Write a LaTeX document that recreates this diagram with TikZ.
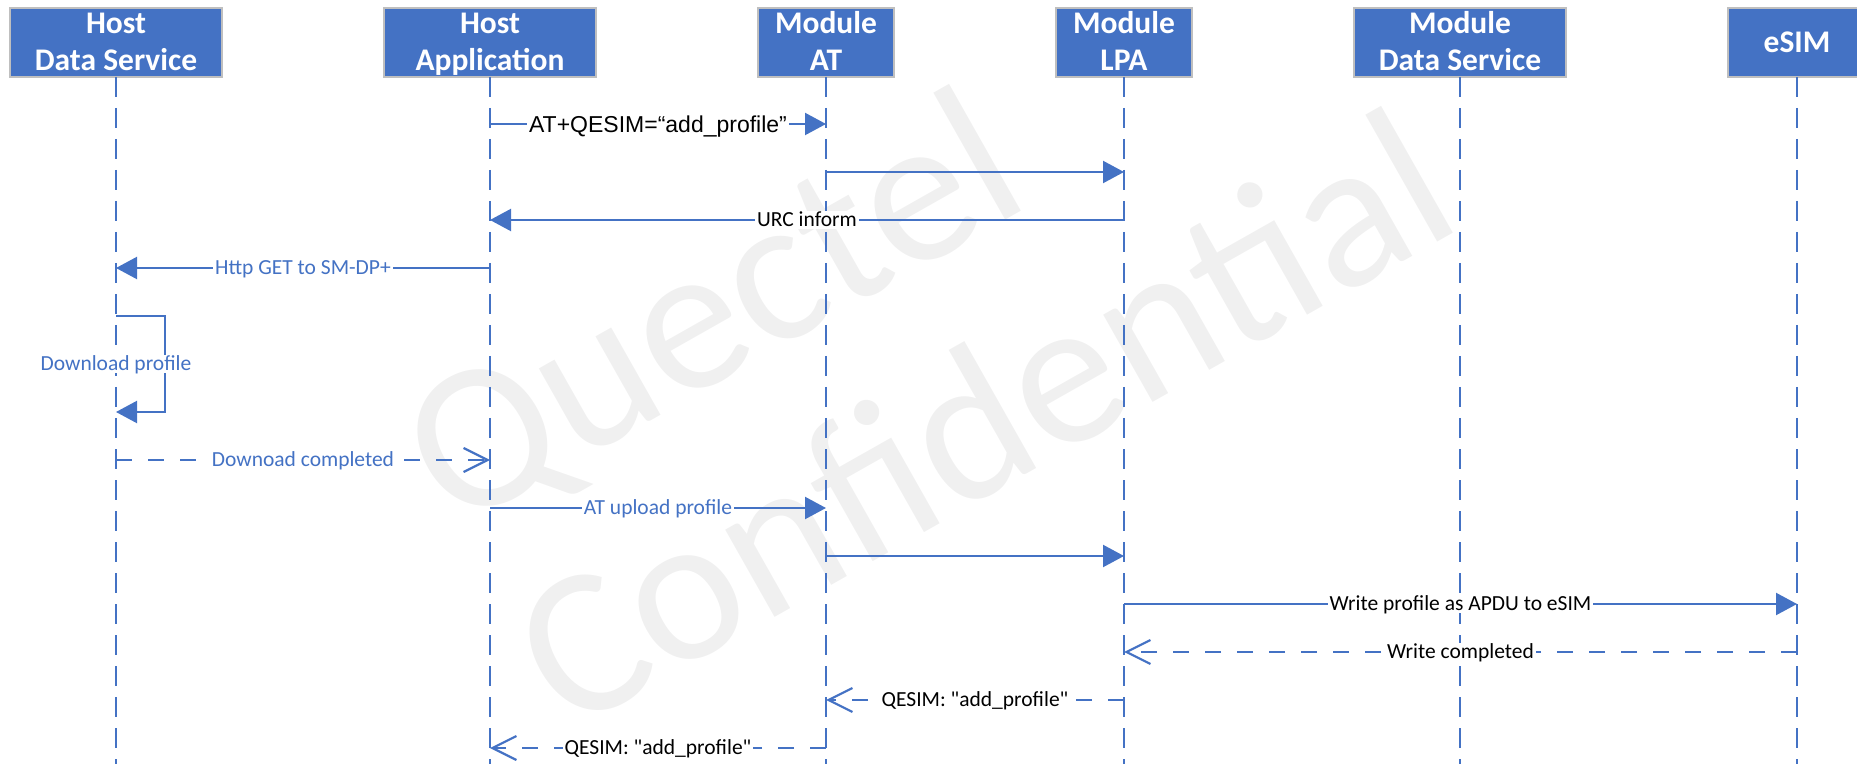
\documentclass[tikz,border=0pt]{standalone}
\usepackage{fontspec}
\setmainfont{Carlito}
\newfontfamily\arialfont{Liberation Sans}
\usepackage{xcolor}
\usetikzlibrary{positioning, arrows.meta}
\definecolor{qblue}{HTML}{4472C4}
\definecolor{boxgray}{HTML}{BFBFBF}
\definecolor{wmgray}{HTML}{F0F0F0}
\newcommand{\twolines}[2]{\smash{#1}\rule{0pt}{10pt}\\\smash{#2}} % caps centred in the box
\tikzset{
    actor/.style={draw=boxgray, line width=0.75pt, fill=qblue, text=white, align=center, outer sep=0pt,
        font=\fontsize{15.75pt}{18.5pt}\selectfont\bfseries, minimum height=34.5pt, inner sep=0pt}, % participant boxes
    lifeline/.style={draw=qblue, line width=1pt, dash pattern=on 10pt off 5.5pt}, % dashed life lines
    msg/.style={draw=qblue, line width=1.1pt, -{Triangle[length=10.5pt, width=11pt]}}, % call
    reply/.style={draw=qblue, line width=1.1pt, dash pattern=on 8pt off 8pt,
        -{Straight Barb[length=12pt, width=12pt]}}, % answer
    lbl/.style={fill=white, inner xsep=1pt, inner ysep=1pt, text height=6.9pt, text depth=0pt,
        font=\fontsize{10.75pt}{12pt}\selectfont}, % text on a message
    bluelbl/.style={lbl, text=qblue},
    wmark/.style={rotate=29.5, anchor=base west, inner sep=0pt, text=wmgray,
        font=\fontsize{105pt}{115pt}\selectfont}, % watermark
}

\begin{document}
\begin{tikzpicture}[x=0.5pt, y=-0.5pt, node distance=81pt]
    \useasboundingbox (0,0) rectangle (1857,764);
    % watermark
    \node[wmark] (wmq) at (454,532) {Quectel};
    \node[wmark] (wmc) at (568,734) {Confidential};

    % participants
    \node[actor, minimum width=106pt] (hds) at (116,42.5) {\twolines{Host}{Data Service}};
    \node[actor, minimum width=106pt] (happ) [right=of hds] {\twolines{Host}{Application}};
    \node[actor, minimum width=68pt] (mat) [right=of happ] {\twolines{Module}{AT}};
    \node[actor, minimum width=68pt] (lpa) [right=of mat] {\twolines{Module}{LPA}};
    \node[actor, minimum width=106pt] (mds) [right=of lpa] {\twolines{Module}{Data Service}};
    \node[actor, minimum width=69pt, text depth=0pt] (esim) [right=of mds] {eSIM};

    \foreach \n in {hds,happ,mat,lpa,mds,esim}
        \draw[lifeline] (\n.south) -- (\n |- 0,764);

    % messages
    \draw[msg] (happ |- 0,124) -- node[lbl, text height=8.2pt, font=\arialfont\fontsize{11.5pt}{13pt}\selectfont]
        {AT+QESIM=“add\_profile”} (mat |- 0,124);
    \draw[msg] (mat |- 0,172) -- (lpa |- 0,172);
    \draw[msg] (lpa |- 0,220) -- node[lbl] {URC inform} (happ |- 0,220);
    \draw[msg] (happ |- 0,268) -- node[bluelbl] {Http GET to SM-DP+} (hds |- 0,268);
    \draw[msg] (hds |- 0,316) -- ++(49,0) -- ++(0,96) -- (hds |- 0,412);
    \node[bluelbl] (dl) at (hds |- 0,364) {Download profile};
    \draw[reply] (hds |- 0,460) -- node[bluelbl] {Downoad completed} (happ |- 0,460);
    \draw[msg] (happ |- 0,508) -- node[bluelbl] {AT upload profile} (mat |- 0,508);
    \draw[msg] (mat |- 0,556) -- (lpa |- 0,556);
    \draw[msg] (lpa |- 0,604) -- node[lbl] {Write profile as APDU to eSIM} (esim |- 0,604);
    \draw[reply] (esim |- 0,652) -- node[lbl] {Write completed} (lpa |- 0,652);
    \draw[reply] (lpa |- 0,700) -- node[lbl] {QESIM: \textquotedbl add\_profile\textquotedbl} (mat |- 0,700);
    \draw[reply] (mat |- 0,748) -- node[lbl] {QESIM: \textquotedbl add\_profile\textquotedbl} (happ |- 0,748);
\end{tikzpicture}
\end{document}
